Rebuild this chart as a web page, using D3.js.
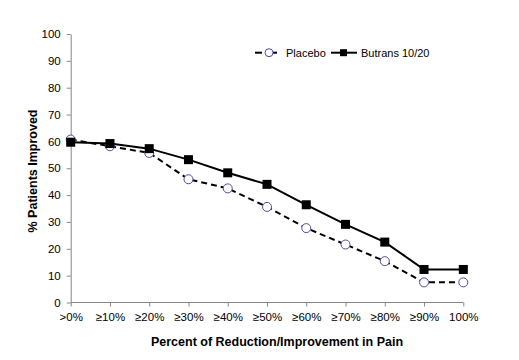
<!DOCTYPE html>
<html><head><meta charset="utf-8">
<script src="https://cdn.jsdelivr.net/npm/d3@7"></script>
<style>body{margin:0;background:#fff;}svg{display:block;font-family:"Liberation Sans",Arial,sans-serif;}</style>
</head><body>
<svg id="c" width="519" height="360"></svg>
<script>
const categories = [">0%","≥10%","≥20%","≥30%","≥40%","≥50%","≥60%","≥70%","≥80%","≥90%","100%"];
const placebo = [60.7,58.2,55.7,45.9,42.5,35.6,27.7,21.6,15.4,7.5,7.5];
const butrans = [59.7,59.2,57.3,53.2,48.3,44.0,36.4,29.1,22.5,12.3,12.3];
const yTicks = [0,10,20,30,40,50,60,70,80,90,100];

const svg = d3.select("#c");
const x = d3.scalePoint().domain(categories).range([70.7,463.3]);
const y = d3.scaleLinear().domain([0,100]).range([302.5,34]);
const axisColor = "#868686";

const xa = svg.append("g").attr("transform","translate(0,302.5)")
  .call(d3.axisBottom(x).tickSize(4).tickSizeOuter(0).tickPadding(6));
xa.select(".domain").attr("stroke",axisColor).attr("d","M70.7,0H463.3");
xa.selectAll(".tick line").attr("stroke",axisColor);
xa.selectAll("text").attr("font-size",11.5).attr("fill","#000").attr("font-family","Liberation Sans, Arial, sans-serif");

const ya = svg.append("g").attr("transform","translate(70.7,0)")
  .call(d3.axisLeft(y).tickValues(yTicks).tickSize(4).tickSizeOuter(0).tickPadding(6));
ya.select(".domain").attr("stroke",axisColor);
ya.selectAll(".tick line").attr("stroke",axisColor);
ya.selectAll("text").attr("font-size",11.5).attr("fill","#000").attr("font-family","Liberation Sans, Arial, sans-serif");

svg.append("text").attr("x",277).attr("y",346).attr("text-anchor","middle")
  .attr("font-size",12.5).attr("font-weight","bold").text("Percent of Reduction/Improvement in Pain");
svg.append("text").attr("transform","translate(37,171) rotate(-90)").attr("text-anchor","middle")
  .attr("font-size",12.5).attr("font-weight","bold").text("% Patients Improved");

const line = d3.line().x((d,i)=>x(categories[i])).y(d=>y(d));
svg.append("path").datum(placebo).attr("d",line).attr("fill","none")
  .attr("stroke","#000").attr("stroke-width",2).attr("stroke-dasharray","6,4");
svg.append("path").datum(butrans).attr("d",line).attr("fill","none")
  .attr("stroke","#000").attr("stroke-width",2);

svg.selectAll("circle.p").data(placebo).enter().append("circle")
  .attr("cx",(d,i)=>x(categories[i])).attr("cy",d=>y(d)).attr("r",4.5)
  .attr("fill","#fff").attr("stroke","#4d4da6").attr("stroke-width",1);
svg.selectAll("rect.b").data(butrans).enter().append("rect")
  .attr("x",(d,i)=>x(categories[i])-4.5).attr("y",d=>y(d)-4.5)
  .attr("width",9).attr("height",9).attr("fill","#000");

// legend
const lg = svg.append("g");
lg.append("line").attr("x1",255).attr("x2",262).attr("y1",52.7).attr("y2",52.7)
  .attr("stroke","#000").attr("stroke-width",2);
lg.append("line").attr("x1",273).attr("x2",277).attr("y1",52.7).attr("y2",52.7)
  .attr("stroke","#000").attr("stroke-width",2);
lg.append("circle").attr("cx",269).attr("cy",52.7).attr("r",4).attr("fill","#fff").attr("stroke","#4d4da6");
lg.append("text").attr("x",286).attr("y",56.7).attr("font-size",11).text("Placebo");
lg.append("line").attr("x1",331).attr("x2",357).attr("y1",52.7).attr("y2",52.7)
  .attr("stroke","#000").attr("stroke-width",2);
lg.append("rect").attr("x",340).attr("y",49.2).attr("width",7).attr("height",7).attr("fill","#000");
lg.append("text").attr("x",361).attr("y",56.7).attr("font-size",11).text("Butrans 10/20");
</script>
</body></html>
